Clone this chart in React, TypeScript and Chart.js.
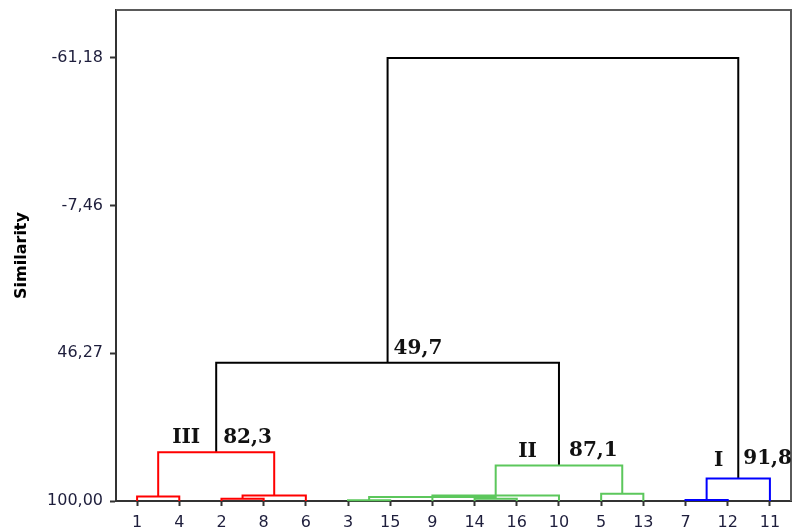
import React, { useEffect, useRef } from 'react';
import { Chart, registerables } from 'chart.js';

Chart.register(...registerables);

// Leaves in dendrogram order (x-axis tick labels)
const leaves = ['1', '4', '2', '8', '6', '3', '15', '9', '14', '16', '10', '5', '13', '7', '12', '11'];

// Merges: children are leaf index (0..15) or 16 + merge index
const mergeLeft = [0, 2, 17, 16, 5, 8, 20, 22, 23, 11, 24, 13, 27, 19, 29];
const mergeRight = [1, 3, 4, 18, 6, 9, 21, 7, 10, 12, 25, 14, 15, 26, 28];
const mergeHeight = [98.4, 99.2, 98.0, 82.3, 99.7, 99.2, 98.5, 98.2, 98.0, 97.4, 87.1, 99.6, 91.8, 49.7, -61.18];
const mergeGroup = ['III', 'III', 'III', 'III', 'II', 'II', 'II', 'II', 'II', 'II', 'II', 'I', 'I', 'root', 'root'];

// Y axis (similarity, reversed)
const yTickValues = [-61.18, -7.46, 46.27, 100];
const yMin = -78.6;
const yMax = 100;

// Annotations
const clusterLabels = ['III', 'II', 'I'];
const clusterLabelNodes = [3, 10, 12];
const heightLabels = ['49,7', '82,3', '87,1', '91,8'];
const heightLabelNodes = [13, 3, 10, 12];

const groupColors: Record<string, string> = {
  III: '#ff0000',
  II: '#5cc75c',
  I: '#0000ff',
  root: '#000000',
};

function buildTree() {
  const centers: number[] = leaves.map((_, i) => i);
  const heights: number[] = leaves.map(() => 100);
  mergeLeft.forEach((l, k) => {
    const r = mergeRight[k];
    centers.push((centers[l] + centers[r]) / 2);
    heights.push(mergeHeight[k]);
  });
  return { centers, heights };
}

export default function App() {
  const ref = useRef<HTMLCanvasElement | null>(null);

  useEffect(() => {
    document.body.style.margin = '0';
    const canvas = ref.current;
    if (!canvas) return;
    const { centers, heights } = buildTree();
    const n = leaves.length;

    const datasets = mergeLeft.map((l, k) => {
      const r = mergeRight[k];
      const h = mergeHeight[k];
      return {
        label: 'm' + k,
        data: [
          { x: centers[l], y: heights[l] },
          { x: centers[l], y: h },
          { x: centers[r], y: h },
          { x: centers[r], y: heights[r] },
        ],
        borderColor: groupColors[mergeGroup[k]],
        backgroundColor: groupColors[mergeGroup[k]],
        borderWidth: 2,
        pointRadius: 0,
        tension: 0,
        fill: false,
        clip: false as any,
      };
    });

    const framePlugin = {
      id: 'frame',
      beforeDatasetsDraw(chart: any) {
        const { ctx, chartArea } = chart;
        ctx.save();
        ctx.strokeStyle = '#5a5a5a';
        ctx.lineWidth = 2;
        ctx.beginPath();
        ctx.moveTo(chartArea.left, chartArea.top);
        ctx.lineTo(chartArea.right, chartArea.top);
        ctx.lineTo(chartArea.right, chartArea.bottom);
        ctx.stroke();
        ctx.restore();
      },
    };

    const labelPlugin = {
      id: 'nodeLabels',
      afterDatasetsDraw(chart: any) {
        const { ctx } = chart;
        const xs = chart.scales.x;
        const ys = chart.scales.y;
        ctx.save();
        ctx.fillStyle = '#111111';
        ctx.font = 'bold 20px "DejaVu Serif"';
        ctx.textBaseline = 'alphabetic';
        const hdx = [6, 7, 10, 5];
        const hdy = [-9, -9, -10, -14];
        heightLabels.forEach((t, i) => {
          const node = n + heightLabelNodes[i];
          const px = xs.getPixelForValue(centers[node]);
          const py = ys.getPixelForValue(heights[node]);
          ctx.textAlign = 'left';
          ctx.fillText(t, px + hdx[i], py + hdy[i]);
        });
        const cdx = [-16, -22, -15];
        const cdy = [-9, -9, -12];
        clusterLabels.forEach((t, i) => {
          const node = n + clusterLabelNodes[i];
          const px = xs.getPixelForValue(centers[node]);
          const py = ys.getPixelForValue(heights[node]);
          ctx.textAlign = 'right';
          ctx.fillText(t, px + cdx[i], py + cdy[i]);
        });
        ctx.restore();
      },
    };

    const chart = new Chart(canvas, {
      type: 'line',
      data: { datasets: datasets as any },
      options: {
        animation: false,
        responsive: false,
        maintainAspectRatio: false,
        devicePixelRatio: 1,
        layout: { padding: { top: 10, right: 5, left: 0, bottom: 0 } },
        plugins: {
          legend: { display: false },
          tooltip: { enabled: false },
        },
        scales: {
          x: {
            type: 'linear',
            min: -0.5,
            max: n - 0.5,
            afterBuildTicks: (scale: any) => {
              scale.ticks = leaves.map((_, i) => ({ value: i }));
            },
            afterFit: (scale: any) => {
              scale.height = 30;
              scale.paddingLeft = 0;
              scale.paddingRight = 0;
            },
            ticks: {
              autoSkip: false,
              maxRotation: 0,
              padding: 7,
              color: '#1e1e3c',
              font: { family: '"DejaVu Sans"', size: 16 },
              callback: (v: any) => leaves[Math.round(Number(v))] ?? '',
            },
            grid: {
              drawOnChartArea: false,
              drawTicks: true,
              tickLength: 5,
              tickWidth: 2,
              tickColor: '#333333',
            },
            border: { display: true, color: '#333333', width: 2 },
          },
          y: {
            type: 'linear',
            reverse: true,
            min: yMin,
            max: yMax,
            afterBuildTicks: (scale: any) => {
              scale.ticks = yTickValues.map((v) => ({ value: v }));
            },
            afterFit: (scale: any) => {
              scale.width = 116;
              scale.paddingTop = 0;
              scale.paddingBottom = 0;
            },
            ticks: {
              padding: 7,
              color: '#1e1e3c',
              font: { family: '"DejaVu Sans"', size: 16 },
              callback: (v: any) => Number(v).toFixed(2).replace('.', ','),
            },
            grid: {
              drawOnChartArea: false,
              drawTicks: true,
              tickLength: 6,
              tickWidth: 2,
              tickColor: '#333333',
            },
            border: { display: true, color: '#333333', width: 2 },
            title: {
              display: true,
              text: 'Similarity',
              color: '#000000',
              font: { family: '"DejaVu Sans"', size: 16, weight: 'bold' },
              padding: { top: 12, bottom: 0 },
            },
          },
        },
      },
      plugins: [framePlugin, labelPlugin],
    });

    return () => chart.destroy();
  }, []);

  return (
    <div style={{ position: 'absolute', left: 0, top: 0, width: 796, height: 531, background: '#ffffff' }}>
      <canvas ref={ref} width={796} height={531} style={{ width: 796, height: 531, display: 'block' }} />
    </div>
  );
}
